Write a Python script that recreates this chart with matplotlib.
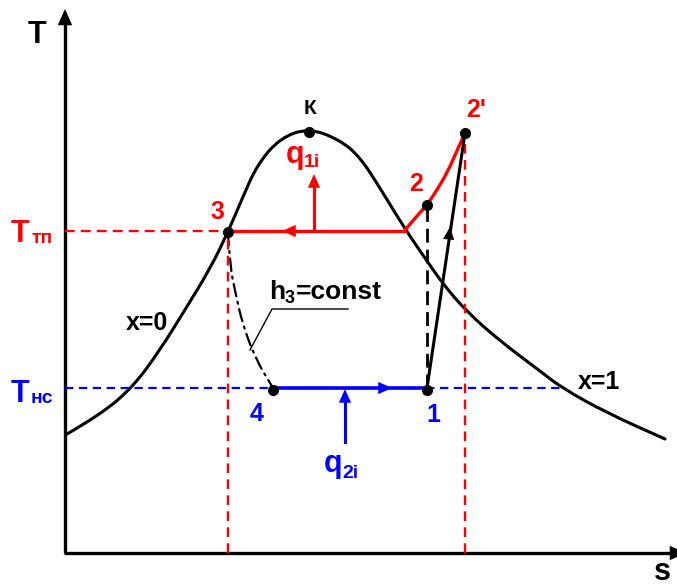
import matplotlib
matplotlib.use('Agg')
import matplotlib.pyplot as plt
from matplotlib.path import Path
from matplotlib.patches import PathPatch

plt.rcParams['font.family'] = ['Liberation Sans', 'DejaVu Sans']
plt.rcParams['font.weight'] = 'bold'
plt.rcParams['lines.scale_dashes'] = False

RED = '#ff0000'
BLUE = '#0000ff'

# saturation dome (x=0 on the left, x=1 on the right)
dome_s = [67, 100, 133, 160, 183, 210, 228, 242, 257, 280, 309, 340, 360, 380,
          405, 427, 443, 467, 500, 540, 562, 607, 665]
dome_T = [153, 172, 200, 237, 274, 318, 355, 388, 422, 449, 459, 447, 430, 399,
          358, 326, 303, 275, 246, 216, 199, 174, 148]

# state points of the cycle
T_tp = 356   # condensing temperature
T_hc = 199   # evaporating temperature
s3, s4, s1 = 228, 273, 427
s2, T2 = 427, 382
s2p, T2p = 465, 454
sK, TK = 309, 455

# superheated vapour 2' -> start of condensation
sup_s = [405, 416, 427, 437, 447, 456, 465]
sup_T = [357, 370, 382, 397, 414, 434, 454]

# throttling 3 -> 4 (h3 = const)
thr_s = [228, 230, 236, 242, 255, 273]
thr_T = [354, 320, 292, 265, 229, 199]

# axes of the diagram
s0, T0 = 65, 34
s_end, T_end = 686, 578

fig = plt.figure(figsize=(6.77, 5.87), dpi=100)
ax = fig.add_axes([0, 0, 1, 1])
ax.set_xlim(0, 677)
ax.set_ylim(0, 587)
ax.axis('off')


def head(tip, base, color, size):
    ax.annotate('', xy=tip, xytext=base, annotation_clip=False,
                arrowprops=dict(arrowstyle='-|>,head_length=0.45,head_width=0.2',
                                mutation_scale=size, color=color, lw=0,
                                shrinkA=0, shrinkB=0))


def smooth_curve(xs, ys, **kw):
    # quadratic bezier through the midpoints, the given points act as controls
    pts = list(zip(xs, ys))
    verts, codes = [pts[0]], [Path.MOVETO]
    for i in range(1, len(pts) - 1):
        mid = ((pts[i][0] + pts[i + 1][0]) / 2, (pts[i][1] + pts[i + 1][1]) / 2)
        verts += [pts[i], mid]
        codes += [Path.CURVE3, Path.CURVE3]
    verts.append(pts[-1])
    codes.append(Path.LINETO)
    ax.add_patch(PathPatch(Path(verts, codes), fill=False, capstyle='round',
                           joinstyle='round', **kw))


# coordinate axes with arrows
ax.plot([s0, s0], [T0, T_end - 10], color='black', lw=2.4, solid_capstyle='butt')
ax.plot([s0 - 1, s_end - 10], [T0, T0], color='black', lw=2.4, solid_capstyle='butt')
head((s0, T_end), (s0, T_end - 16), 'black', 26)
head((s_end, T0), (s_end - 16, T0), 'black', 26)

# dashed helper lines
ax.plot([s0, s3], [T_tp, T_tp], color=RED, lw=1.7, dashes=(7, 4.5))
ax.plot([s3, s3], [T0, T_tp], color=RED, lw=1.7, dashes=(7, 4.5))
ax.plot([s2p, s2p], [T0, T2p], color=RED, lw=1.7, dashes=(7, 4.5))
ax.plot([s0, 560], [T_hc, T_hc], color=BLUE, lw=1.6, dashes=(6, 4))
ax.plot([s2, s2], [T_hc, T2], color='black', lw=2.0, dashes=(10, 5))

# dome
smooth_curve(dome_s, dome_T, edgecolor='black', lw=2.2)

# condensation 2' -> 3
ax.plot([s3, sup_s[0]], [T_tp, T_tp], color=RED, lw=2.4)
smooth_curve(sup_s, sup_T, edgecolor=RED, lw=2.4)
head((282, T_tp), (298, T_tp), RED, 22)
ax.plot([314, 314], [T_tp, 400], color=RED, lw=2.2)
head((314, 413), (314, 398), RED, 22)

# evaporation 4 -> 1
ax.plot([s4, s1], [T_hc, T_hc], color=BLUE, lw=2.6)
head((392, T_hc), (376, T_hc), BLUE, 22)
ax.plot([345, 345], [145, 185], color=BLUE, lw=2.2)
head((345, 198), (345, 183), BLUE, 22)

# compression 1 -> 2'
ax.plot([s1, s2p], [T_hc, T2p], color='black', lw=2.2)
head((450, 360), (448.5, 346), 'black', 20)

# throttling
smooth_curve(thr_s, thr_T, edgecolor='black', lw=1.6, linestyle=(0, (9, 4, 1.5, 4)))
ax.plot([348, 272, 250], [278, 278, 237], color='black', lw=1.0)

# state points
ax.plot([s3, s4, s1, s2, s2p, sK], [T_tp - 1, T_hc - 2, T_hc - 2, T2, T2p, TK],
        'o', color='black', ms=7, zorder=5)

# labels
ax.text(37, 552, 'T', fontsize=22, ha='center', va='center')
ax.text(662, 15, 's', fontsize=22, ha='center', va='center')
ax.text(310, 478, 'К', fontsize=15, ha='center', va='center')
ax.text(217, 375, '3', fontsize=18, color=RED, ha='center', va='center')
ax.text(416, 403, '2', fontsize=18, color=RED, ha='center', va='center')
ax.text(476, 477, "2'", fontsize=18, color=RED, ha='center', va='center')
ax.text(257, 173, '4', fontsize=18, color=BLUE, ha='center', va='center')
ax.text(433, 172, '1', fontsize=18, color=BLUE, ha='center', va='center')
ax.text(147, 264, 'x=0', fontsize=18, ha='center', va='center')
ax.text(599, 205, 'x=1', fontsize=18, ha='center', va='center')

ax.text(269, 288, 'h', fontsize=19, va='baseline')
ax.text(285, 284, '3', fontsize=13, va='baseline')
ax.text(296, 288, '=const', fontsize=19, va='baseline')

ax.text(286, 424, 'q', fontsize=22, color=RED, va='baseline')
ax.text(304, 420, '1i', fontsize=14, color=RED, va='baseline')
ax.text(324, 115, 'q', fontsize=22, color=BLUE, va='baseline')
ax.text(342, 109, '2i', fontsize=14, color=BLUE, va='baseline')

ax.text(11, 345, 'T', fontsize=22, color=RED, va='baseline')
ax.text(31, 344, 'тп', fontsize=14, color=RED, va='baseline')
ax.text(11, 185, 'T', fontsize=22, color=BLUE, va='baseline')
ax.text(31, 184, 'нс', fontsize=14, color=BLUE, va='baseline')

fig.savefig('out.png', dpi=100)
